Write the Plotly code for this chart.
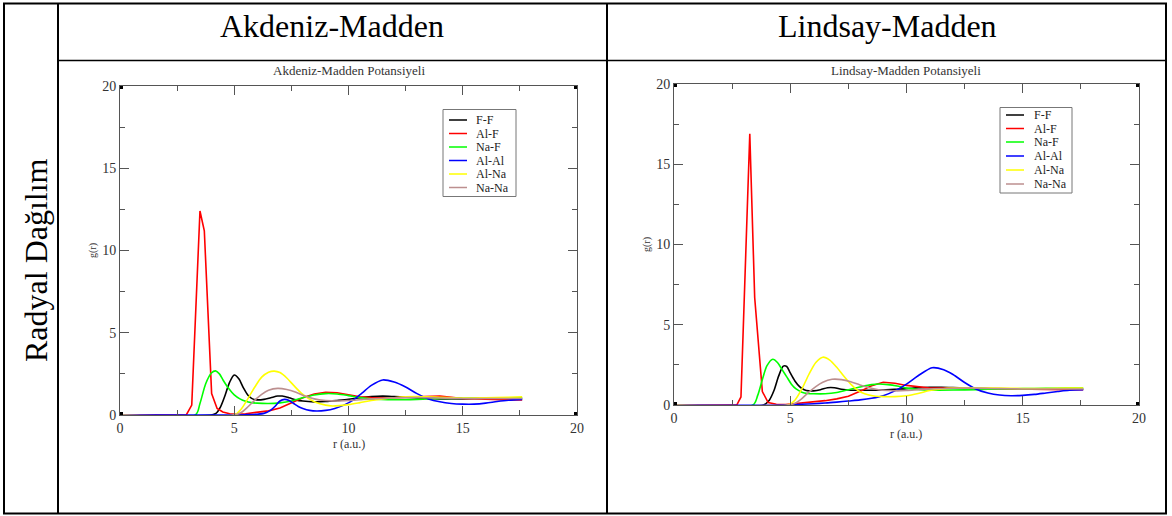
import plotly.graph_objects as go

W, H = 1172, 516

# ---------------- data ----------------
series_names = ["F-F", "Al-F", "Na-F", "Al-Al", "Al-Na", "Na-Na"]
series_colors = ["#000000", "#ff0000", "#00ff00", "#0000ff", "#ffff00", "#bc8f8f"]

# Akdeniz-Madden
am_ff_r = [0, 4.0, 4.2, 4.4, 4.6, 4.8, 5.0, 5.2, 5.4, 5.6, 5.8, 6.0, 6.3, 6.6, 6.9, 7.1, 7.4, 7.7, 8.0, 8.5, 9.0, 9.5, 10.0, 10.5, 11.0, 11.5, 12.0, 12.5, 13.0, 14.0, 15.0, 16.0, 17.0, 17.6]
am_ff_g = [0, 0, 0.1, 0.5, 1.2, 2.0, 2.43, 2.2, 1.65, 1.2, 0.98, 0.92, 0.95, 1.05, 1.15, 1.15, 1.05, 0.92, 0.85, 0.8, 0.82, 0.88, 0.95, 1.05, 1.12, 1.15, 1.12, 1.08, 1.03, 0.98, 0.98, 1.0, 1.0, 1.0]

am_alf_r = [0, 2.9, 3.14, 3.5, 3.69, 4.01, 4.25, 4.5, 4.8, 5.1, 5.5, 6.0, 6.5, 7.0, 7.5, 8.0, 8.5, 9.0, 9.5, 10.0, 10.5, 11.0, 12.0, 13.0, 14.0, 15.0, 16.0, 17.0, 17.6]
am_alf_g = [0, 0, 0.6, 12.4, 11.2, 1.3, 0.4, 0.18, 0.08, 0.05, 0.08, 0.15, 0.25, 0.42, 0.72, 1.05, 1.28, 1.38, 1.35, 1.22, 1.1, 1.06, 1.05, 1.1, 1.15, 1.0, 0.95, 0.92, 0.92]

am_naf_r = [0, 3.3, 3.5, 3.75, 4.0, 4.18, 4.35, 4.5, 4.75, 5.0, 5.25, 5.5, 5.75, 6.0, 6.5, 7.0, 7.5, 8.0, 8.5, 9.0, 9.5, 10.0, 10.5, 11.0, 12.0, 13.0, 14.0, 15.0, 16.0, 17.0, 17.6]
am_naf_g = [0, 0, 0.7, 1.9, 2.55, 2.68, 2.5, 2.15, 1.62, 1.22, 0.98, 0.83, 0.75, 0.72, 0.7, 0.74, 0.85, 1.05, 1.22, 1.3, 1.28, 1.18, 1.06, 0.98, 0.93, 0.95, 1.0, 1.02, 1.05, 1.05, 1.05]

am_alal_r = [0, 5.0, 5.5, 6.0, 6.3, 6.6, 6.8, 7.0, 7.2, 7.4, 7.6, 7.8, 8.0, 8.3, 8.6, 9.0, 9.4, 9.8, 10.2, 10.6, 11.0, 11.5, 12.0, 12.5, 13.0, 13.5, 14.0, 14.5, 15.0, 15.5, 16.0, 16.5, 17.0, 17.6]
am_alal_g = [0, 0, 0.02, 0.05, 0.1, 0.3, 0.55, 0.85, 0.95, 0.88, 0.7, 0.52, 0.4, 0.28, 0.24, 0.28, 0.4, 0.6, 0.9, 1.35, 1.8, 2.13, 2.0, 1.7, 1.3, 0.98, 0.8, 0.7, 0.66, 0.66, 0.72, 0.82, 0.9, 0.95]

am_alna_r = [0, 5.0, 5.3, 5.6, 5.9, 6.2, 6.5, 6.75, 7.0, 7.3, 7.6, 8.0, 8.5, 9.0, 9.3, 9.6, 10.0, 10.5, 11.0, 11.5, 12.0, 12.5, 13.0, 14.0, 15.0, 16.0, 17.0, 17.6]
am_alna_g = [0, 0, 0.35, 1.0, 1.7, 2.3, 2.6, 2.67, 2.58, 2.25, 1.8, 1.25, 0.8, 0.6, 0.55, 0.57, 0.63, 0.75, 0.88, 0.98, 1.05, 1.1, 1.12, 1.08, 1.03, 1.05, 1.08, 1.1]

am_nana_r = [0, 5.0, 5.3, 5.6, 5.9, 6.2, 6.5, 6.9, 7.3, 7.7, 8.1, 8.5, 9.0, 9.5, 10.0, 10.5, 11.0, 12.0, 13.0, 14.0, 15.0, 16.0, 17.0, 17.6]
am_nana_g = [0, 0, 0.15, 0.5, 0.9, 1.25, 1.5, 1.62, 1.55, 1.38, 1.15, 0.98, 0.88, 0.85, 0.88, 0.93, 0.98, 1.04, 1.06, 1.03, 1.0, 1.0, 1.0, 1.0]

# Lindsay-Madden
lm_ff_r = [0, 3.85, 4.1, 4.3, 4.5, 4.7, 4.85, 5.0, 5.2, 5.4, 5.6, 5.8, 6.0, 6.3, 6.6, 6.9, 7.2, 7.6, 8.0, 8.5, 9.0, 9.5, 10.0, 10.5, 11.0, 11.5, 12.0, 13.0, 14.0, 15.0, 16.0, 17.0, 17.6]
lm_ff_g = [0, 0, 0.3, 0.9, 1.8, 2.42, 2.4, 2.0, 1.5, 1.15, 0.95, 0.88, 0.88, 0.95, 1.08, 1.08, 0.98, 0.92, 0.92, 0.92, 0.93, 0.98, 1.02, 1.08, 1.1, 1.1, 1.08, 1.04, 1.0, 1.0, 1.0, 1.0, 1.0]

lm_alf_r = [0, 2.7, 2.88, 3.26, 3.47, 3.8, 4.05, 4.4, 4.8, 5.4, 6.0, 6.5, 7.0, 7.5, 8.0, 8.5, 9.0, 9.5, 10.0, 10.5, 11.0, 12.0, 13.0, 14.0, 15.0, 16.0, 17.0, 17.6]
lm_alf_g = [0, 0, 0.5, 16.9, 6.7, 0.84, 0.15, 0.05, 0.03, 0.1, 0.2, 0.27, 0.38, 0.55, 0.85, 1.2, 1.42, 1.36, 1.22, 1.12, 1.06, 1.05, 1.02, 1.0, 0.98, 0.97, 0.95, 0.95]

lm_naf_r = [0, 3.4, 3.6, 3.82, 4.0, 4.25, 4.45, 4.65, 4.85, 5.05, 5.25, 5.5, 5.75, 6.0, 6.5, 7.0, 7.5, 8.0, 8.5, 8.8, 9.2, 9.6, 10.0, 10.5, 11.0, 12.0, 13.0, 14.0, 15.0, 16.0, 17.0, 17.6]
lm_naf_g = [0, 0, 0.6, 1.68, 2.45, 2.85, 2.65, 2.2, 1.75, 1.3, 1.0, 0.8, 0.72, 0.7, 0.7, 0.78, 0.95, 1.12, 1.27, 1.31, 1.27, 1.18, 1.05, 0.97, 0.93, 0.93, 0.96, 1.0, 1.02, 1.04, 1.05, 1.05]

lm_alal_r = [0, 4.8, 5.5, 6.0, 6.5, 7.0, 7.5, 8.0, 8.5, 9.0, 9.5, 10.0, 10.5, 11.1, 11.6, 12.0, 12.5, 13.0, 13.5, 14.0, 14.5, 15.0, 15.5, 16.0, 16.5, 17.0, 17.6]
lm_alal_g = [0, 0, 0.05, 0.08, 0.12, 0.18, 0.25, 0.32, 0.42, 0.58, 0.88, 1.3, 1.82, 2.32, 2.2, 1.9, 1.4, 0.98, 0.75, 0.62, 0.58, 0.6, 0.66, 0.75, 0.84, 0.92, 0.95]

lm_alna_r = [0, 4.9, 5.2, 5.5, 5.8, 6.1, 6.4, 6.7, 7.0, 7.3, 7.6, 7.9, 8.2, 8.6, 9.0, 9.5, 10.0, 10.5, 11.0, 11.5, 12.0, 13.0, 14.0, 15.0, 16.0, 17.0, 17.6]
lm_alna_g = [0, 0, 0.3, 1.0, 1.9, 2.65, 2.98, 2.8, 2.35, 1.8, 1.3, 0.92, 0.7, 0.56, 0.52, 0.52, 0.58, 0.72, 0.9, 1.0, 1.05, 1.07, 1.05, 1.03, 1.03, 1.05, 1.05]

lm_nana_r = [0, 4.9, 5.2, 5.5, 5.8, 6.1, 6.4, 6.8, 7.2, 7.6, 8.0, 8.4, 8.8, 9.2, 9.6, 10.0, 10.5, 11.0, 12.0, 13.0, 14.0, 15.0, 16.0, 17.0, 17.6]
lm_nana_g = [0, 0, 0.1, 0.4, 0.8, 1.15, 1.42, 1.6, 1.58, 1.45, 1.25, 1.08, 0.95, 0.9, 0.88, 0.9, 0.95, 1.0, 1.04, 1.05, 1.02, 1.0, 1.0, 1.0, 1.0]

am_series = [(am_ff_r, am_ff_g), (am_alf_r, am_alf_g), (am_naf_r, am_naf_g),
             (am_alal_r, am_alal_g), (am_alna_r, am_alna_g), (am_nana_r, am_nana_g)]
lm_series = [(lm_ff_r, lm_ff_g), (lm_alf_r, lm_alf_g), (lm_naf_r, lm_naf_g),
             (lm_alal_r, lm_alal_g), (lm_alna_r, lm_alna_g), (lm_nana_r, lm_nana_g)]

x_ticks = [0, 5, 10, 15, 20]
y_ticks = [0, 5, 10, 15, 20]

header_left = "Akdeniz-Madden"
header_right = "Lindsay-Madden"
row_label = "Radyal Dağılım"
title_left = "Akdeniz-Madden Potansiyeli"
title_right = "Lindsay-Madden Potansiyeli"
x_title = "r (a.u.)"
y_title = "g(r)"

# ---------------- helpers ----------------
def px(x):
    return x / W

def py(y):
    return 1 - y / H

SERIF = "Liberation Serif, Times New Roman, serif"

fig = go.Figure()

for i, (r, g) in enumerate(am_series):
    fig.add_trace(go.Scatter(x=r, y=g, mode="lines", name=series_names[i],
                             line=dict(color=series_colors[i], width=1.6,
                                       shape="linear" if i == 1 else "spline", smoothing=0.8),
                             xaxis="x", yaxis="y", showlegend=False, hoverinfo="skip"))
for i, (r, g) in enumerate(lm_series):
    fig.add_trace(go.Scatter(x=r, y=g, mode="lines", name=series_names[i],
                             line=dict(color=series_colors[i], width=1.6,
                                       shape="linear" if i == 1 else "spline", smoothing=0.8),
                             xaxis="x2", yaxis="y2", showlegend=False, hoverinfo="skip"))

AX_COL = "#555555"
def axis(domain, anchor, ticks):
    return dict(domain=domain, anchor=anchor, range=[0, 20], tickvals=ticks,
                ticks="inside", ticklen=9, tickwidth=1, tickcolor=AX_COL,
                showline=True, linecolor=AX_COL, linewidth=1, mirror="allticks",
                showgrid=False, zeroline=False, fixedrange=True, automargin=False,
                tickfont=dict(family=SERIF, size=14, color="#333333"),
                minor=dict(ticks="inside", ticklen=5, tickwidth=1, tickcolor=AX_COL,
                           dtick=2.5, tick0=0, showgrid=False))

L = dict(x0=120, x1=577, y0=86, y1=415)
R = dict(x0=674, x1=1139, y0=84, y1=405)

fig.update_layout(
    width=W, height=H, margin=dict(l=0, r=0, t=0, b=0, pad=0, autoexpand=False),
    paper_bgcolor="white", plot_bgcolor="white", showlegend=False,
    xaxis=axis([px(L["x0"]), px(L["x1"])], "y", x_ticks),
    yaxis=axis([py(L["y1"]), py(L["y0"])], "x", y_ticks),
    xaxis2=axis([px(R["x0"]), px(R["x1"])], "y2", x_ticks),
    yaxis2=axis([py(R["y1"]), py(R["y0"])], "x2", y_ticks),
)

shapes = []
# table lines
BL = dict(color="black", width=2)
shapes.append(dict(type="rect", xref="paper", yref="paper", x0=px(4), x1=px(1166), y0=py(3.5), y1=py(513.5), line=BL))
shapes.append(dict(type="line", xref="paper", yref="paper", x0=px(58), x1=px(58), y0=py(3.5), y1=py(513.5), line=BL))
shapes.append(dict(type="line", xref="paper", yref="paper", x0=px(607), x1=px(607), y0=py(3.5), y1=py(513.5), line=BL))
shapes.append(dict(type="line", xref="paper", yref="paper", x0=px(58), x1=px(1166), y0=py(60.5), y1=py(60.5), line=dict(color="black", width=1.5)))

# corner handles
for xr, yr in (("x", "y"), ("x2", "y2")):
    for cx in (0, 20):
        for cy in (0, 20):
            shapes.append(dict(type="rect", xref=xr, yref=yr, xsizemode="pixel", ysizemode="pixel",
                               xanchor=cx, yanchor=cy, x0=-3, x1=3, y0=-3, y1=3,
                               fillcolor="black", line=dict(width=0)))

annotations = []
def text(x, y, s, size, color="black", angle=0, xanchor="center", yanchor="middle"):
    annotations.append(dict(xref="paper", yref="paper", x=px(x), y=py(y), text=s, showarrow=False,
                            font=dict(family=SERIF, size=size, color=color), textangle=angle,
                            xanchor=xanchor, yanchor=yanchor))

text(332.5, 26, header_left, 32)
text(887, 26, header_right, 32)
text(36, 260, row_label, 32, angle=-90)

text(349, 70, title_left, 13, color="#333333")
text(906, 70, title_right, 13, color="#333333")
text(349, 444, x_title, 12, color="#333333")
text(906, 434, x_title, 12, color="#333333")
text(93, 251, y_title, 10, color="#333333", angle=-90)
text(647, 245, y_title, 10, color="#333333", angle=-90)

# legends
def legend(bx0, bx1, by0, by1, ys, lx0, lx1, tx):
    shapes.append(dict(type="rect", xref="paper", yref="paper", x0=px(bx0), x1=px(bx1),
                       y0=py(by0), y1=py(by1), line=dict(color="#777777", width=1), fillcolor="white"))
    for name, col, yy in zip(series_names, series_colors, ys):
        shapes.append(dict(type="line", xref="paper", yref="paper", x0=px(lx0), x1=px(lx1),
                           y0=py(yy), y1=py(yy), line=dict(color=col, width=1.5)))
        text(tx, yy, name, 12, color="#222222", xanchor="left")

legend(443, 516, 109.5, 196.5, [120, 133.5, 147, 160.5, 174, 187.5], 449, 467, 474)
legend(1000, 1072, 107.5, 193, [115, 128.5, 142, 156, 170, 184], 1006, 1024, 1032)

fig.update_layout(shapes=shapes, annotations=annotations)
fig.write_html("out.html")
